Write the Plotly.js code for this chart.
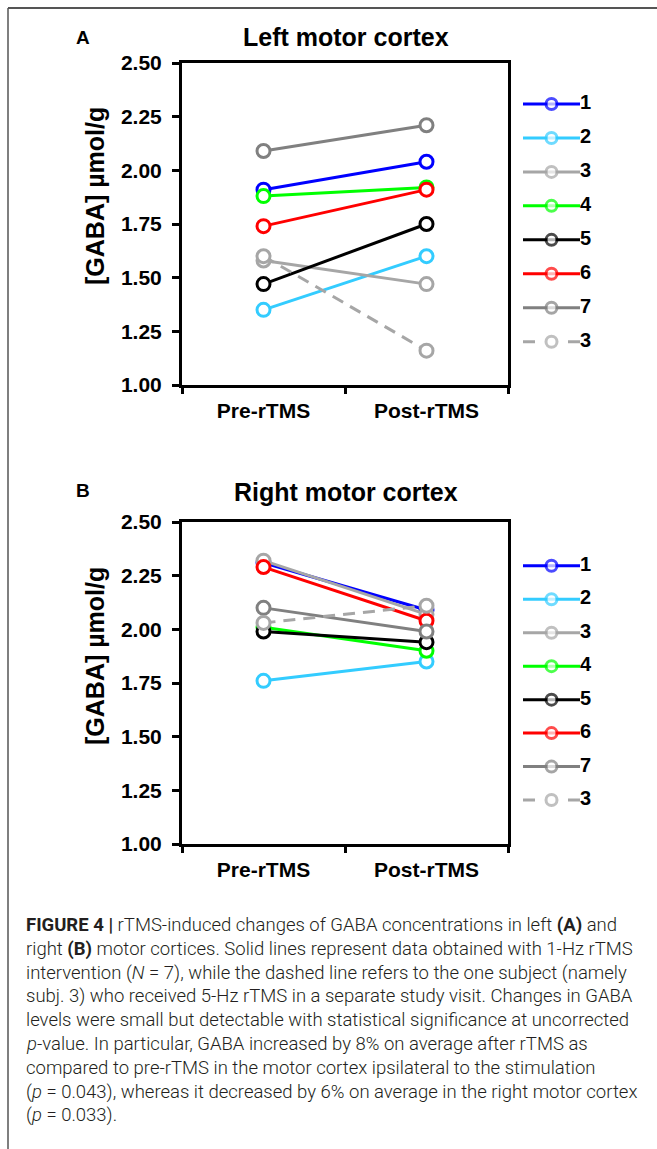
<!DOCTYPE html>
<html>
<head>
<meta charset="utf-8">
<script src="https://cdn.plot.ly/plotly-3.0.1.min.js"></script>
<style>
  html, body { margin: 0; padding: 0; background: #fff; }
  #chart { width: 657px; height: 1149px; }
</style>
</head>
<body>
<div id="chart"></div>
<script>
// ---------- data ----------
const conditions = ['Pre-rTMS', 'Post-rTMS'];
const subjects = ['1', '2', '3', '4', '5', '6', '7', '3'];
const leftPre   = [1.91, 1.35, 1.58, 1.88, 1.47, 1.74, 2.09, 1.60];
const leftPost  = [2.04, 1.60, 1.47, 1.92, 1.75, 1.91, 2.21, 1.16];
const rightPre  = [2.31, 1.76, 2.32, 2.01, 1.99, 2.29, 2.10, 2.03];
const rightPost = [2.09, 1.85, 2.07, 1.90, 1.94, 2.04, 1.99, 2.11];
const panelTitles = ['Left motor cortex', 'Right motor cortex'];
const panelLetters = ['A', 'B'];
const yTitle = '[GABA] µmol/g';
const captionLines = [
  '<b>FIGURE 4 |</b> rTMS-induced changes of GABA concentrations in left <b>(A)</b> and',
  'right <b>(B)</b> motor cortices. Solid lines represent data obtained with 1-Hz rTMS',
  'intervention (<i>N</i> = 7), while the dashed line refers to the one subject (namely',
  'subj. 3) who received 5-Hz rTMS in a separate study visit. Changes in GABA',
  'levels were small but detectable with statistical significance at uncorrected',
  '<i>p</i>-value. In particular, GABA increased by 8% on average after rTMS as',
  'compared to pre-rTMS in the motor cortex ipsilateral to the stimulation',
  '(<i>p</i> = 0.043), whereas it decreased by 6% on average in the right motor cortex',
  '(<i>p</i> = 0.033).'
];

// ---------- styles ----------
const colors = ['#0000FF', '#33CCFF', '#A6A6A6', '#00FF00', '#000000', '#FF0000', '#808080', '#A6A6A6'];
const dashed = [false, false, false, false, false, false, false, true];

const W = 657, H = 1149;
const px = v => v / W;
const py = v => 1 - v / H;
const FONT = 'Liberation Sans, Arial, sans-serif';

const traces = [];
function addPanel(pre, post, xa, ya, lxa, lya) {
  for (let i = 0; i < subjects.length; i++) {
    traces.push({
      type: 'scatter', mode: 'lines+markers',
      x: conditions, y: [pre[i], post[i]],
      xaxis: xa, yaxis: ya,
      line: { color: colors[i], width: 3, dash: dashed[i] ? '12px,8px' : 'solid' },
      marker: { symbol: 'circle', size: 13, color: '#FFFFFF', line: { color: colors[i], width: 3 } },
      cliponaxis: false, showlegend: false, hoverinfo: 'x+y'
    });
  }
  // custom legend drawn on a hidden axis
  for (let i = 0; i < subjects.length; i++) {
    traces.push({
      type: 'scatter', mode: 'lines+markers+text',
      x: [0, 1, 2], y: [i, i, i],
      xaxis: lxa, yaxis: lya,
      text: ['', '', subjects[i]], textposition: 'middle right',
      textfont: { family: FONT, size: 20, color: '#000', weight: 'bold' },
      line: { color: colors[i], width: 3, dash: dashed[i] ? '12px,33px' : 'solid' },
      marker: { symbol: 'circle', size: [0, 11, 0], color: '#FFFFFF',
                line: { color: colors[i], width: [0, 3, 0] } },
      cliponaxis: false, showlegend: false, hoverinfo: 'skip'
    });
  }
}
addPanel(leftPre, leftPost, 'x', 'y', 'x3', 'y3');
addPanel(rightPre, rightPost, 'x2', 'y2', 'x4', 'y4');

const xCommon = {
  type: 'category', range: [-0.5, 1.5], domain: [px(182), px(508)],
  showline: true, linewidth: 3, linecolor: '#000', mirror: true,
  ticks: 'outside', ticklen: 6, tickwidth: 3, tickcolor: '#000', tickson: 'boundaries',
  ticklabelstandoff: 5,
  showgrid: false, zeroline: false,
  tickfont: { family: FONT, size: 21, color: '#000', weight: 'bold' }
};
const yCommon = {
  range: [1, 2.5], dtick: 0.25, tick0: 1, tickformat: '.2f',
  showline: true, linewidth: 3, linecolor: '#000', mirror: true,
  ticks: 'outside', ticklen: 7, tickwidth: 3, tickcolor: '#000',
  ticklabelstandoff: 6,
  showgrid: false, zeroline: false,
  tickfont: { family: FONT, size: 21, color: '#000', weight: 'bold' }
};
const legX = { domain: [px(523), px(580)], range: [0, 2], visible: false, fixedrange: true };
const legY = { range: [7.5, -0.5], visible: false, fixedrange: true };

const annotations = [];
const titleY = [37, 492], letterY = [37, 491], yTitleY = [196, 656];
for (let k = 0; k < 2; k++) {
  annotations.push({ xref: 'paper', yref: 'paper', x: px(346), y: py(titleY[k]), xanchor: 'center', yanchor: 'middle',
    text: panelTitles[k], showarrow: false, font: { family: FONT, size: 25, color: '#000', weight: 'bold' } });
  annotations.push({ xref: 'paper', yref: 'paper', x: px(83), y: py(letterY[k]), xanchor: 'center', yanchor: 'middle',
    text: panelLetters[k], showarrow: false, font: { family: FONT, size: 19, color: '#000', weight: 'bold' } });
  annotations.push({ xref: 'paper', yref: 'paper', x: px(95), y: py(yTitleY[k]), xanchor: 'center', yanchor: 'middle',
    text: yTitle, textangle: -90, showarrow: false, font: { family: FONT, size: 25, color: '#000', weight: 'bold' } });
}
captionLines.forEach((t, i) => {
  annotations.push({ xref: 'paper', yref: 'paper', x: px(24), y: py(925 + i * 23.8), xanchor: 'left', yanchor: 'middle',
    align: 'left', text: t, showarrow: false,
    font: { family: 'Roboto, Liberation Sans, sans-serif', size: 18.5, color: '#231F20', weight: 300 } });
});

const layout = {
  width: W, height: H,
  margin: { l: 0, r: 0, t: 0, b: 0 },
  paper_bgcolor: '#fff', plot_bgcolor: 'rgba(0,0,0,0)',
  showlegend: false,
  xaxis: Object.assign({}, xCommon, { anchor: 'y' }),
  yaxis: Object.assign({}, yCommon, { domain: [py(385), py(63)], anchor: 'x' }),
  xaxis2: Object.assign({}, xCommon, { anchor: 'y2' }),
  yaxis2: Object.assign({}, yCommon, { domain: [py(844), py(522)], anchor: 'x2' }),
  xaxis3: Object.assign({}, legX, { anchor: 'y3' }),
  yaxis3: Object.assign({}, legY, { domain: [py(358.7), py(87)], anchor: 'x3' }),
  xaxis4: Object.assign({}, legX, { anchor: 'y4' }),
  yaxis4: Object.assign({}, legY, { domain: [py(816.8), py(549)], anchor: 'x4' }),
  annotations: annotations,
  shapes: [
    { type: 'line', xref: 'paper', yref: 'paper', x0: px(8), x1: 1, y0: py(8), y1: py(8), line: { color: '#555', width: 2 } },
    { type: 'line', xref: 'paper', yref: 'paper', x0: px(8), x1: px(8), y0: py(8), y1: 0, line: { color: '#555', width: 1.5 } }
  ]
};

Plotly.newPlot('chart', traces, layout, { displayModeBar: false, staticPlot: false });
</script>
</body>
</html>
